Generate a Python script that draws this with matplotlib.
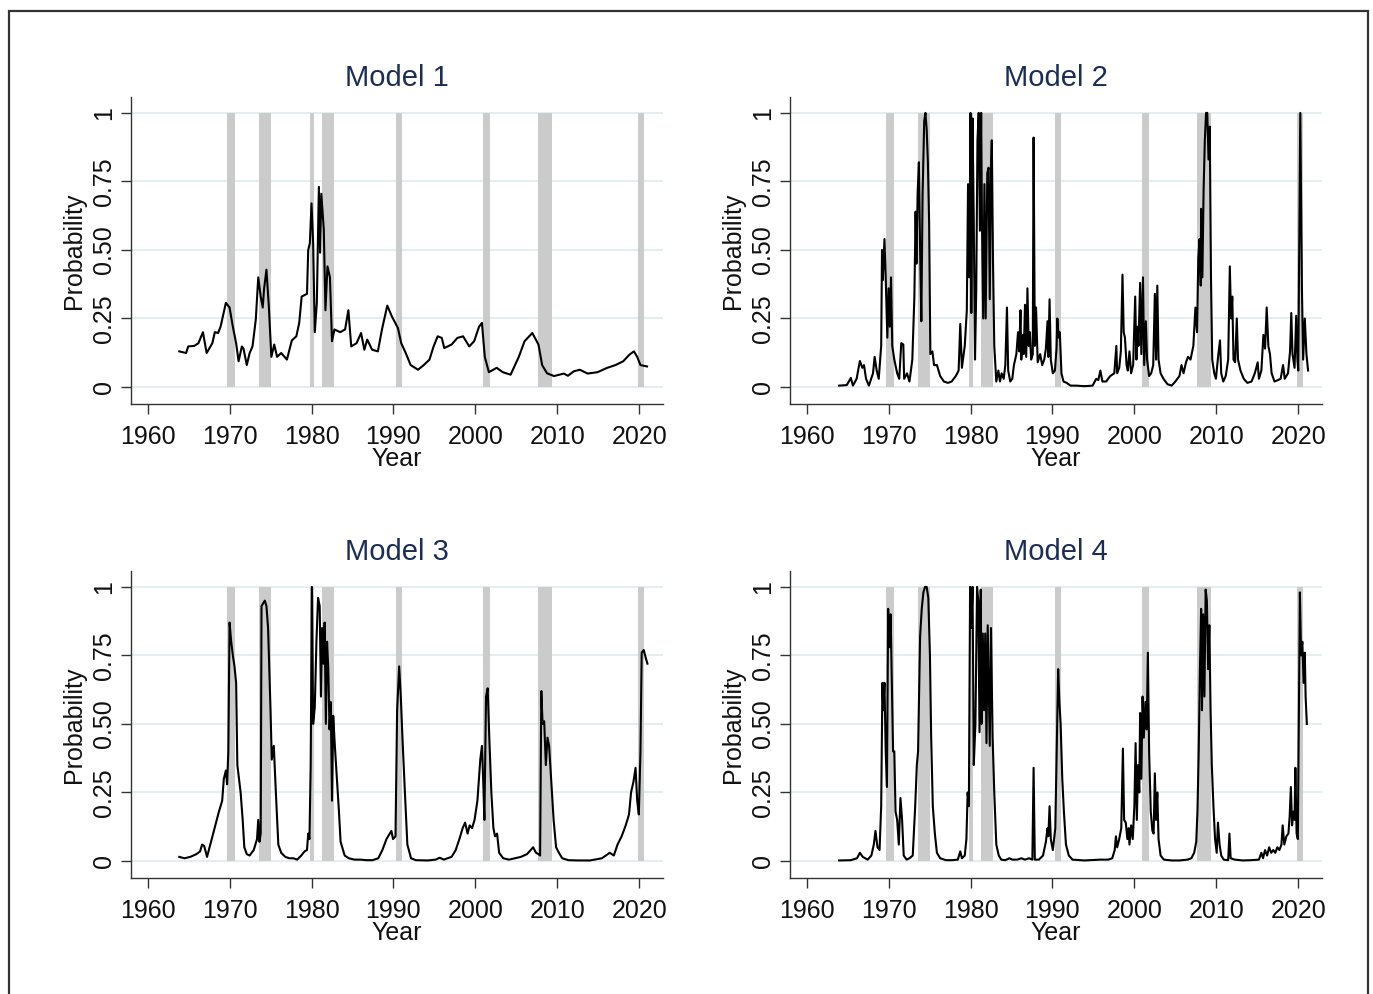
import matplotlib
matplotlib.use('Agg')
import matplotlib.pyplot as plt
from matplotlib.patches import Rectangle

plt.rcParams['font.family'] = ['Liberation Sans', 'DejaVu Sans']

# recession bands (decimal years)
rec_start = [1969.7, 1973.6, 1979.8, 1981.3, 1990.3, 2000.95, 2007.7, 2019.85]
rec_end = [1970.7, 1975.05, 1980.35, 1982.7, 1991.1, 2001.75, 2009.3, 2020.6]

x_ticks = [1960, 1970, 1980, 1990, 2000, 2010, 2020]
y_ticks = [0, 0.25, 0.5, 0.75, 1]
y_tick_labels = ['0', '0.25', '0.50', '0.75', '1']
titles = ['Model 1', 'Model 2', 'Model 3', 'Model 4']

model1_year = [1963.86, 1964.7, 1964.95, 1965.7, 1966.2, 1966.75, 1967.2, 1967.9, 1968.2, 1968.6,
               1968.9, 1969.2, 1969.55, 1970.0, 1970.4, 1970.8, 1971.1, 1971.5, 1971.7, 1972.1,
               1972.45, 1972.8, 1973.2, 1973.5, 1973.8, 1974.05, 1974.2, 1974.5, 1974.8, 1975.1,
               1975.45, 1975.8, 1976.3, 1977.0, 1977.6, 1978.15, 1978.5, 1978.8, 1979.45, 1979.6,
               1979.8, 1980.0, 1980.2, 1980.4, 1980.65, 1980.9, 1981.05, 1981.2, 1981.5, 1981.7,
               1981.95, 1982.25, 1982.5, 1982.8, 1983.5, 1984.1, 1984.5, 1984.85, 1985.5, 1986.05,
               1986.45, 1986.8, 1987.4, 1988.1, 1988.6, 1989.25, 1989.8, 1990.55, 1990.95, 1991.5,
               1992.1, 1993.0, 1993.7, 1994.4, 1994.9, 1995.4, 1995.9, 1996.2, 1997.1, 1997.8,
               1998.5, 1999.25, 1999.85, 2000.45, 2000.8, 2001.15, 2001.65, 2002.6, 2003.35, 2004.3,
               2005.3, 2006.0, 2006.95, 2007.7, 2008.15, 2008.75, 2009.6, 2010.8, 2011.3, 2012.0,
               2012.75, 2013.7, 2014.9, 2016.1, 2017.1, 2018.05, 2018.8, 2019.35, 2019.75, 2020.15,
               2020.95]
model1_prob = [0.13, 0.124, 0.148, 0.15, 0.16, 0.20, 0.124, 0.16, 0.20, 0.197,
               0.22, 0.26, 0.307, 0.29, 0.22, 0.16, 0.094, 0.148, 0.14, 0.08,
               0.124, 0.148, 0.246, 0.40, 0.33, 0.29, 0.355, 0.428, 0.29, 0.11,
               0.155, 0.11, 0.124, 0.10, 0.17, 0.185, 0.234, 0.33, 0.34, 0.50,
               0.525, 0.67, 0.525, 0.20, 0.307, 0.73, 0.49, 0.705, 0.574, 0.28,
               0.44, 0.40, 0.167, 0.21, 0.20, 0.21, 0.28, 0.148, 0.16, 0.197,
               0.136, 0.173, 0.136, 0.13, 0.21, 0.297, 0.258, 0.215, 0.16, 0.124,
               0.08, 0.063, 0.08, 0.10, 0.148, 0.185, 0.179, 0.142, 0.155, 0.179,
               0.185, 0.148, 0.167, 0.22, 0.234, 0.11, 0.054, 0.07, 0.054, 0.045,
               0.11, 0.167, 0.197, 0.155, 0.08, 0.05, 0.04, 0.049, 0.041, 0.057,
               0.063, 0.049, 0.054, 0.07, 0.08, 0.094, 0.118, 0.13, 0.11, 0.08,
               0.075]

model2_year = [1963.96, 1964.9, 1965.4, 1965.65, 1966.1, 1966.5, 1966.8, 1967.0, 1967.25, 1967.6,
               1968.1, 1968.3, 1968.55, 1968.8, 1969.1, 1969.2, 1969.3, 1969.5, 1969.65, 1969.85,
               1970.0, 1970.15, 1970.3, 1970.45, 1970.7, 1971.05, 1971.3, 1971.55, 1971.8, 1971.9,
               1972.25, 1972.55, 1972.9, 1973.15, 1973.3, 1973.4, 1973.55, 1973.7, 1973.85, 1974.0,
               1974.15, 1974.35, 1974.5, 1974.65, 1974.8, 1974.95, 1975.1, 1975.35, 1975.55, 1975.9,
               1976.3, 1976.75, 1977.25, 1977.7, 1978.2, 1978.55, 1978.75, 1978.95, 1979.3, 1979.55,
               1979.7, 1979.85, 1980.0, 1980.1, 1980.25, 1980.4, 1980.55, 1980.7, 1980.85, 1981.0,
               1981.15, 1981.3, 1981.4, 1981.55, 1981.7, 1981.85, 1982.05, 1982.2, 1982.35, 1982.5,
               1982.6, 1982.75, 1982.9, 1983.15, 1983.4, 1983.6, 1983.8, 1984.05, 1984.25, 1984.45,
               1984.6, 1984.85, 1985.1, 1985.3, 1985.6, 1985.8, 1985.95, 1986.1, 1986.2, 1986.4,
               1986.5, 1986.65, 1986.8, 1986.95, 1987.1, 1987.25, 1987.4, 1987.6, 1987.7, 1987.85,
               1988.0, 1988.2, 1988.5, 1988.75, 1989.0, 1989.2, 1989.4, 1989.5, 1989.65, 1989.8,
               1990.05, 1990.3, 1990.5, 1990.6, 1990.75, 1990.9, 1991.1, 1991.35, 1991.75, 1992.2,
               1992.95, 1993.9, 1994.9, 1995.35, 1995.6, 1995.85, 1996.1, 1996.55, 1997.05, 1997.55,
               1997.8, 1997.9, 1998.15, 1998.35, 1998.55, 1998.7, 1998.85, 1999.05, 1999.2, 1999.4,
               1999.6, 1999.85, 2000.1, 2000.25, 2000.4, 2000.5, 2000.7, 2000.85, 2001.05, 2001.2,
               2001.4, 2001.55, 2001.8, 2002.05, 2002.3, 2002.5, 2002.65, 2002.8, 2002.95, 2003.2,
               2003.55, 2004.05, 2004.55, 2005.0, 2005.5, 2005.75, 2006.0, 2006.3, 2006.55, 2006.85,
               2007.2, 2007.45, 2007.65, 2007.8, 2007.95, 2008.1, 2008.15, 2008.3, 2008.45, 2008.6,
               2008.75, 2008.9, 2009.05, 2009.2, 2009.35, 2009.5, 2009.75, 2009.95, 2010.25, 2010.45,
               2010.6, 2010.85, 2011.15, 2011.45, 2011.65, 2011.8, 2011.95, 2012.1, 2012.3, 2012.5,
               2012.65, 2012.95, 2013.35, 2013.8, 2014.3, 2014.7, 2015.05, 2015.2, 2015.5, 2015.75,
               2015.95, 2016.15, 2016.35, 2016.55, 2016.75, 2017.1, 2017.5, 2017.85, 2018.15, 2018.35,
               2018.75, 2019.0, 2019.15, 2019.3, 2019.55, 2019.75, 2019.9, 2020.0, 2020.15, 2020.25,
               2020.45, 2020.6, 2020.8, 2021.0, 2021.2]
model2_prob = [0.005, 0.007, 0.033, 0.005, 0.03, 0.095, 0.07, 0.08, 0.03, 0.005,
               0.05, 0.11, 0.06, 0.03, 0.15, 0.50, 0.39, 0.54, 0.40, 0.18,
               0.36, 0.22, 0.40, 0.15, 0.10, 0.05, 0.03, 0.16, 0.155, 0.03,
               0.05, 0.02, 0.10, 0.33, 0.64, 0.45, 0.71, 0.82, 0.50, 0.24,
               0.70, 0.97, 1.0, 0.94, 0.82, 0.60, 0.12, 0.13, 0.08, 0.08,
               0.04, 0.02, 0.015, 0.02, 0.04, 0.06, 0.23, 0.07, 0.15, 0.28,
               0.74, 0.40, 1.0, 0.27, 0.98, 0.60, 0.10, 0.35, 0.90, 1.0,
               0.57, 1.0, 0.60, 0.25, 0.74, 0.25, 0.78, 0.80, 0.32, 0.81,
               0.90, 0.45, 0.15, 0.02, 0.06, 0.02, 0.05, 0.03, 0.08, 0.29,
               0.06, 0.02, 0.03, 0.08, 0.12, 0.20, 0.13, 0.28, 0.10, 0.19,
               0.12, 0.30, 0.11, 0.36, 0.15, 0.20, 0.10, 0.12, 0.91, 0.15,
               0.29, 0.09, 0.12, 0.08, 0.10, 0.14, 0.24, 0.11, 0.32, 0.10,
               0.05, 0.06, 0.14, 0.25, 0.18, 0.20, 0.05, 0.02, 0.015, 0.005,
               0.005, 0.003, 0.005, 0.03, 0.025, 0.06, 0.02, 0.02, 0.04, 0.05,
               0.15, 0.05, 0.07, 0.13, 0.41, 0.20, 0.18, 0.08, 0.06, 0.13,
               0.05, 0.08, 0.33, 0.10, 0.22, 0.15, 0.38, 0.12, 0.40, 0.08,
               0.24, 0.10, 0.04, 0.05, 0.08, 0.34, 0.10, 0.37, 0.10, 0.05,
               0.03, 0.01, 0.005, 0.02, 0.04, 0.08, 0.05, 0.09, 0.11, 0.10,
               0.15, 0.29, 0.20, 0.47, 0.54, 0.37, 0.65, 0.40, 0.72, 0.90,
               1.0, 1.0, 0.83, 0.95, 0.40, 0.10, 0.05, 0.03, 0.12, 0.17,
               0.05, 0.02, 0.04, 0.10, 0.44, 0.25, 0.33, 0.10, 0.09, 0.25,
               0.10, 0.06, 0.03, 0.015, 0.02, 0.05, 0.09, 0.03, 0.06, 0.19,
               0.14, 0.29, 0.15, 0.12, 0.05, 0.02, 0.025, 0.03, 0.08, 0.03,
               0.05, 0.13, 0.27, 0.12, 0.07, 0.26, 0.10, 0.06, 0.60, 1.0,
               0.36, 0.10, 0.25, 0.12, 0.06]

model3_year = [1963.86, 1964.5, 1965.2, 1965.95, 1966.4, 1966.65, 1966.9, 1967.25, 1967.65, 1968.0,
               1968.35, 1968.7, 1969.1, 1969.3, 1969.55, 1969.7, 1969.85, 1970.0, 1970.2, 1970.4,
               1970.6, 1970.8, 1970.95, 1971.15, 1971.35, 1971.6, 1971.8, 1972.1, 1972.45, 1972.95,
               1973.35, 1973.5, 1973.65, 1973.8, 1973.9, 1974.1, 1974.3, 1974.5, 1974.7, 1975.0,
               1975.15, 1975.4, 1975.65, 1975.95, 1976.3, 1976.8, 1977.3, 1977.8, 1978.25, 1978.75,
               1979.15, 1979.45, 1979.6, 1979.75, 1979.9, 1980.05, 1980.2, 1980.4, 1980.6, 1980.8,
               1981.0, 1981.15, 1981.3, 1981.45, 1981.6, 1981.75, 1981.9, 1982.05, 1982.2, 1982.35,
               1982.5, 1982.65, 1982.85, 1983.1, 1983.35, 1983.55, 1984.05, 1984.55, 1985.25, 1986.0,
               1986.7, 1987.45, 1988.15, 1988.65, 1989.15, 1989.45, 1989.75, 1989.95, 1990.25, 1990.45,
               1990.7, 1990.9, 1991.1, 1991.4, 1991.7, 1992.15, 1992.75, 1994.2, 1995.15, 1995.65,
               1996.15, 1996.6, 1997.1, 1997.6, 1998.05, 1998.45, 1998.75, 1999.05, 1999.3, 1999.6,
               1999.9, 2000.25, 2000.6, 2000.8, 2000.95, 2001.1, 2001.3, 2001.5, 2001.7, 2001.95,
               2002.2, 2002.4, 2002.65, 2002.9, 2003.4, 2004.1, 2004.8, 2005.55, 2006.3, 2006.75,
               2007.05, 2007.4, 2007.7, 2007.9, 2008.05, 2008.2, 2008.4, 2008.6, 2008.8, 2009.0,
               2009.25, 2009.55, 2009.85, 2010.2, 2010.6, 2011.35, 2012.55, 2014.0, 2015.45, 2016.4,
               2016.9, 2017.35, 2017.85, 2018.35, 2018.75, 2019.0, 2019.3, 2019.55, 2019.75, 2019.95,
               2020.15, 2020.3, 2020.55, 2020.8, 2021.0]
model3_prob = [0.015, 0.01, 0.015, 0.025, 0.035, 0.06, 0.055, 0.015, 0.06, 0.10,
               0.14, 0.18, 0.22, 0.30, 0.33, 0.28, 0.40, 0.87, 0.80, 0.75,
               0.71, 0.65, 0.35, 0.30, 0.25, 0.15, 0.05, 0.025, 0.02, 0.04,
               0.08, 0.15, 0.07, 0.10, 0.93, 0.94, 0.95, 0.93, 0.85, 0.55,
               0.37, 0.42, 0.25, 0.06, 0.03, 0.015, 0.01, 0.01, 0.005, 0.02,
               0.035, 0.04, 0.10, 0.08, 0.35, 1.0, 0.50, 0.56, 0.80, 0.96,
               0.93, 0.60, 0.85, 0.72, 0.87, 0.50, 0.80, 0.70, 0.48, 0.58,
               0.22, 0.53, 0.42, 0.30, 0.18, 0.07, 0.02, 0.01, 0.005, 0.005,
               0.003, 0.003, 0.01, 0.04, 0.08, 0.095, 0.11, 0.08, 0.09, 0.55,
               0.71, 0.60, 0.45, 0.25, 0.06, 0.01, 0.003, 0.002, 0.005, 0.012,
               0.005, 0.01, 0.015, 0.04, 0.08, 0.12, 0.14, 0.10, 0.13, 0.12,
               0.15, 0.22, 0.37, 0.42, 0.30, 0.15, 0.60, 0.63, 0.45, 0.25,
               0.12, 0.09, 0.10, 0.03, 0.01, 0.005, 0.01, 0.015, 0.025, 0.04,
               0.05, 0.03, 0.025, 0.02, 0.62, 0.50, 0.51, 0.35, 0.45, 0.42,
               0.30, 0.15, 0.05, 0.03, 0.01, 0.003, 0.002, 0.002, 0.01, 0.03,
               0.02, 0.06, 0.09, 0.13, 0.17, 0.25, 0.29, 0.34, 0.22, 0.17,
               0.40, 0.76, 0.77, 0.74, 0.72]

model4_year = [1963.96, 1965.4, 1966.15, 1966.5, 1966.85, 1967.45, 1967.9, 1968.2, 1968.4, 1968.65,
               1968.9, 1969.1, 1969.25, 1969.35, 1969.5, 1969.65, 1969.8, 1969.95, 1970.1, 1970.25,
               1970.4, 1970.55, 1970.7, 1970.85, 1971.05, 1971.25, 1971.45, 1971.65, 1971.85, 1972.2,
               1972.55, 1972.95, 1973.25, 1973.45, 1973.6, 1973.85, 1974.05, 1974.25, 1974.45, 1974.65,
               1974.85, 1975.05, 1975.2, 1975.4, 1975.65, 1975.9, 1976.3, 1977.0, 1977.75, 1978.45,
               1978.75, 1978.95, 1979.3, 1979.5, 1979.65, 1979.8, 1979.95, 1980.1, 1980.25, 1980.4,
               1980.6, 1980.8, 1980.95, 1981.1, 1981.25, 1981.35, 1981.5, 1981.65, 1981.8, 1981.95,
               1982.1, 1982.25, 1982.35, 1982.5, 1982.7, 1982.9, 1983.15, 1983.45, 1983.75, 1984.25,
               1984.75, 1985.1, 1985.7, 1986.2, 1986.65, 1987.15, 1987.55, 1987.7, 1987.85, 1988.35,
               1988.85, 1989.2, 1989.4, 1989.5, 1989.65, 1989.8, 1990.05, 1990.35, 1990.55, 1990.7,
               1990.85, 1991.0, 1991.2, 1991.4, 1991.65, 1992.0, 1992.45, 1993.9, 1995.85, 1996.8,
               1997.3, 1997.6, 1997.75, 1997.9, 1998.15, 1998.4, 1998.6, 1998.75, 1998.95, 1999.15,
               1999.3, 1999.4, 1999.6, 1999.8, 2000.0, 2000.15, 2000.3, 2000.45, 2000.6, 2000.7,
               2000.85, 2001.0, 2001.15, 2001.35, 2001.5, 2001.65, 2001.8, 2002.0, 2002.2, 2002.35,
               2002.5, 2002.65, 2002.8, 2002.95, 2003.2, 2003.6, 2004.55, 2005.5, 2006.5, 2006.95,
               2007.3, 2007.55, 2007.7, 2007.85, 2008.0, 2008.15, 2008.25, 2008.4, 2008.55, 2008.7,
               2008.85, 2009.0, 2009.15, 2009.3, 2009.45, 2009.65, 2009.85, 2010.05, 2010.2, 2010.4,
               2010.6, 2010.9, 2011.45, 2011.6, 2011.75, 2012.25, 2013.25, 2014.2, 2015.2, 2015.5,
               2015.7, 2015.95, 2016.2, 2016.45, 2016.7, 2016.95, 2017.2, 2017.45, 2017.7, 2017.95,
               2018.1, 2018.3, 2018.55, 2018.8, 2018.95, 2019.1, 2019.25, 2019.4, 2019.55, 2019.65,
               2019.8, 2019.95, 2020.1, 2020.2, 2020.35, 2020.5, 2020.65, 2020.8, 2020.9, 2021.05]
model4_prob = [0.002, 0.003, 0.01, 0.03, 0.015, 0.005, 0.02, 0.06, 0.11, 0.05,
               0.04, 0.20, 0.65, 0.55, 0.65, 0.40, 0.27, 0.92, 0.78, 0.90,
               0.65, 0.40, 0.40, 0.18, 0.15, 0.06, 0.23, 0.15, 0.02, 0.005,
               0.01, 0.02, 0.20, 0.35, 0.40, 0.82, 0.92, 0.98, 1.0, 1.0,
               0.96, 0.75, 0.45, 0.20, 0.10, 0.03, 0.01, 0.003, 0.003, 0.005,
               0.035, 0.01, 0.02, 0.08, 0.25, 0.20, 1.0, 0.85, 1.0, 0.35,
               0.50, 1.0, 0.95, 0.47, 0.99, 0.50, 0.83, 0.55, 0.83, 0.43,
               0.86, 0.60, 0.42, 0.85, 0.45, 0.25, 0.06, 0.02, 0.005, 0.003,
               0.01, 0.005, 0.005, 0.01, 0.005, 0.01, 0.005, 0.34, 0.005, 0.005,
               0.02, 0.07, 0.12, 0.09, 0.20, 0.08, 0.04, 0.12, 0.45, 0.70,
               0.58, 0.50, 0.30, 0.18, 0.06, 0.02, 0.005, 0.002, 0.005, 0.005,
               0.01, 0.04, 0.09, 0.05, 0.08, 0.12, 0.41, 0.15, 0.14, 0.08,
               0.12, 0.06, 0.13, 0.08, 0.20, 0.43, 0.15, 0.35, 0.25, 0.54,
               0.30, 0.60, 0.45, 0.58, 0.48, 0.76, 0.40, 0.18, 0.11, 0.10,
               0.32, 0.15, 0.25, 0.08, 0.02, 0.005, 0.002, 0.002, 0.005, 0.01,
               0.03, 0.07, 0.18, 0.40, 0.70, 0.92, 0.55, 0.90, 0.60, 0.99,
               0.95, 0.70, 0.86, 0.55, 0.35, 0.20, 0.08, 0.03, 0.14, 0.06,
               0.02, 0.005, 0.003, 0.10, 0.01, 0.005, 0.002, 0.003, 0.005, 0.03,
               0.01, 0.04, 0.02, 0.05, 0.03, 0.04, 0.03, 0.05, 0.04, 0.06,
               0.13, 0.06, 0.09, 0.10, 0.16, 0.27, 0.13, 0.18, 0.15, 0.34,
               0.10, 0.08, 0.60, 0.98, 0.75, 0.80, 0.65, 0.76, 0.60, 0.50]

series = [(model1_year, model1_prob), (model2_year, model2_prob),
          (model3_year, model3_prob), (model4_year, model4_prob)]

# axes boxes in figure fractions (left, bottom, width, height)
W, H = 1373, 994
boxes = [(131 / W, 1 - 404 / H, 532 / W, 307 / H),
         (790 / W, 1 - 404 / H, 532 / W, 307 / H),
         (131 / W, 1 - 878 / H, 532 / W, 307 / H),
         (790 / W, 1 - 878 / H, 532 / W, 307 / H)]

title_color = '#1c2d55'
axis_color = '#333333'

fig = plt.figure(figsize=(W / 100, H / 100), dpi=100)
fig.patch.set_facecolor('white')

for box, (yrs, prob), title in zip(boxes, series, titles):
    ax = fig.add_axes(box)
    ax.set_xlim(1957.97, 2022.9)
    ax.set_ylim(-0.062, 1.058)

    for yv in y_ticks:
        ax.axhline(yv, color='#e4eef0', lw=1.5, zorder=0)

    for s, e in zip(rec_start, rec_end):
        ax.bar((s + e) / 2, 1.0, width=e - s, bottom=0, color='#cbcbcb',
               edgecolor='none', zorder=1)

    ax.plot(yrs, prob, color='black', lw=1.5, zorder=3)

    ax.set_xticks(x_ticks)
    ax.set_yticks(y_ticks)
    ax.set_yticklabels(y_tick_labels, rotation=90, va='center')
    ax.tick_params(axis='both', direction='out', length=7, width=1.0,
                   colors=axis_color, labelcolor='#111111', labelsize=18)
    ax.tick_params(axis='x', pad=8)
    ax.tick_params(axis='y', pad=4)

    for side in ['top', 'right']:
        ax.spines[side].set_visible(False)
    for side in ['left', 'bottom']:
        ax.spines[side].set_color(axis_color)
        ax.spines[side].set_linewidth(1.0)

    ax.set_xlabel('Year', fontsize=18, color='#111111', labelpad=-1)
    ax.set_ylabel('Probability', fontsize=18, color='#111111', labelpad=4)
    ax.set_title(title, fontsize=21, color=title_color, pad=8)

# outer frame (bottom edge falls outside the picture)
fig.patches.append(Rectangle((9 / W, -0.02), (1368 - 9) / W, 1.02 - 11 / H,
                             transform=fig.transFigure, fill=False,
                             edgecolor='#333333', lw=1.6))

fig.savefig('out.png', dpi=100, facecolor='white')
plt.close(fig)
